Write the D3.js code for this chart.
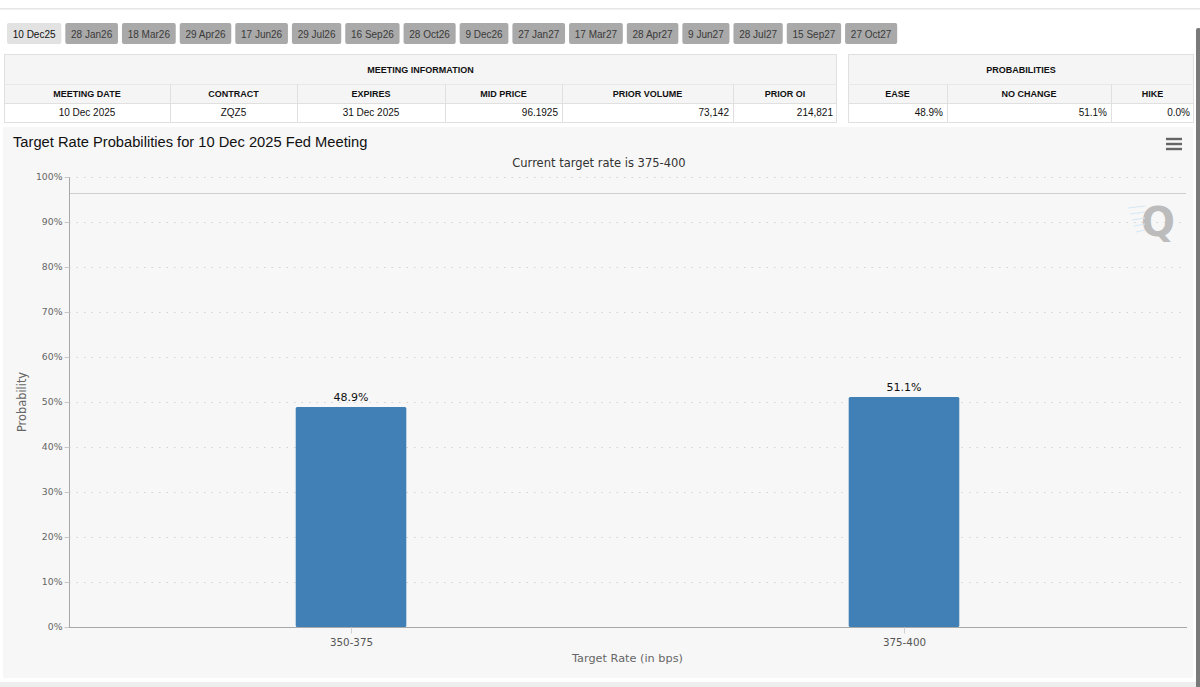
<!DOCTYPE html>
<html>
<head>
<meta charset="utf-8">
<script src="https://cdn.jsdelivr.net/npm/d3@7"></script>
<style>
  html, body { margin: 0; padding: 0; background: #fff; }
  svg { display: block; }
</style>
</head>
<body>
<svg id="page" width="1200" height="687"></svg>
<script>
// ---- data ----
var meetingTabs = ["10 Dec25","28 Jan26","18 Mar26","29 Apr26","17 Jun26","29 Jul26","16 Sep26","28 Oct26",
                   "9 Dec26","27 Jan27","17 Mar27","28 Apr27","9 Jun27","28 Jul27","15 Sep27","27 Oct27"];
var infoHeaders = ["MEETING DATE","CONTRACT","EXPIRES","MID PRICE","PRIOR VOLUME","PRIOR OI"];
var infoValues  = ["10 Dec 2025","ZQZ5","31 Dec 2025","96.1925","73,142","214,821"];
var probHeaders = ["EASE","NO CHANGE","HIKE"];
var probValues  = ["48.9%","51.1%","0.0%"];

var rateBuckets = ["350-375","375-400"];
var probabilities = [48.9, 51.1];
var yTicks = [0,10,20,30,40,50,60,70,80,90,100];
var refLine = 96.4;

var svg = d3.select("#page");
var sans = "'Liberation Sans', Arial, sans-serif";
var chartFont = "'DejaVu Sans', Verdana, sans-serif";

// top strip
svg.append("rect").attr("x",0).attr("y",8).attr("width",1200).attr("height",1.5).attr("fill","#e6e6e6");

// ---- tabs ----
var tabX = 7;
meetingTabs.forEach(function(t,i){
  var g = svg.append("g");
  var r = g.append("rect").attr("y",23).attr("height",21).attr("rx",2)
    .attr("fill", i==0 ? "#e2e2e2" : "#a9a9a9");
  var txt = g.append("text").text(t).attr("y",37.5)
    .attr("font-family",sans).attr("font-size","10px")
    .attr("fill", i==0 ? "#111" : "#3a3a3a");
  var w = txt.node().getComputedTextLength() + 11.5;
  r.attr("x",tabX).attr("width",w);
  txt.attr("x",tabX+5.75);
  tabX += w + 4;
});

// ---- tables ----
function drawTable(x0, x1, cols, title, headers, values, aligns){
  var g = svg.append("g");
  g.append("rect").attr("x",x0).attr("y",54).attr("width",x1-x0).attr("height",49).attr("fill","#f5f5f5");
  g.append("rect").attr("x",x0).attr("y",103).attr("width",x1-x0).attr("height",19).attr("fill","#fff");
  g.append("rect").attr("x",x0+0.5).attr("y",54.5).attr("width",x1-x0-1).attr("height",68)
    .attr("fill","none").attr("stroke","#e0e0e0");
  g.append("line").attr("x1",x0).attr("x2",x1).attr("y1",84.5).attr("y2",84.5).attr("stroke","#e8e8e8");
  g.append("line").attr("x1",x0).attr("x2",x1).attr("y1",103.5).attr("y2",103.5).attr("stroke","#e0e0e0");
  g.append("text").text(title).attr("x",(x0+x1)/2).attr("y",72.5).attr("text-anchor","middle")
    .attr("font-family",sans).attr("font-size","9px").attr("font-weight","bold").attr("fill","#111");
  for (var i=0;i<headers.length;i++){
    var a = cols[i], b = cols[i+1];
    if (i>0) g.append("line").attr("x1",a+0.5).attr("x2",a+0.5).attr("y1",84).attr("y2",122).attr("stroke","#e0e0e0");
    g.append("text").text(headers[i]).attr("x",(a+b)/2).attr("y",96.5).attr("text-anchor","middle")
      .attr("font-family",sans).attr("font-size","9px").attr("font-weight","bold").attr("fill","#111");
    var toRight = aligns[i]=="end";
    g.append("text").text(values[i]).attr("x", toRight ? b-4 : (a+b)/2).attr("y",116)
      .attr("text-anchor", toRight ? "end" : "middle")
      .attr("font-family",sans).attr("font-size","10px").attr("fill","#111");
  }
}
drawTable(4, 837, [4,170,297,445,562,733,837], "MEETING INFORMATION", infoHeaders, infoValues,
  ["middle","middle","middle","end","end","end"]);
drawTable(848, 1194, [848,947,1111,1194], "PROBABILITIES", probHeaders, probValues,
  ["end","end","end"]);

// ---- chart container ----
svg.append("rect").attr("x",3).attr("y",127).attr("width",1190).attr("height",551).attr("fill","#f7f7f7");
svg.append("rect").attr("x",0).attr("y",682).attr("width",1200).attr("height",5).attr("fill","#eeeeee");

svg.append("text").text("Target Rate Probabilities for 10 Dec 2025 Fed Meeting")
  .attr("x",13).attr("y",146.5).attr("font-family",sans).attr("font-size","14.7px").attr("fill","#111");
svg.append("text").text("Current target rate is 375-400")
  .attr("x",599).attr("y",167).attr("text-anchor","middle")
  .attr("font-family",chartFont).attr("font-size","11.5px").attr("fill","#333");

// menu icon
[139,144,149].forEach(function(yy){
  svg.append("rect").attr("x",1166).attr("y",yy-1.2).attr("width",16).attr("height",2.4).attr("fill","#666");
});

var plotLeft = 69, plotRight = 1186, plotTop = 177, plotBottom = 627;
var y = d3.scaleLinear().domain([0,100]).range([plotBottom, plotTop]);
var x = d3.scalePoint().domain(rateBuckets).range([plotLeft, plotRight]).padding(0.51);
var barW = x.step() * 0.2;

// gridlines
svg.append("g").selectAll("line").data(yTicks.filter(function(d){return d>0;})).enter().append("line")
  .attr("x1",plotLeft).attr("x2",1183).attr("y1",function(d){return y(d)+0.5;}).attr("y2",function(d){return y(d)+0.5;})
  .attr("stroke","#d2d2d2").attr("stroke-dasharray","1.5,6");

// reference line
svg.append("line").attr("x1",plotLeft).attr("x2",plotRight)
  .attr("y1",Math.round(y(refLine))+0.5).attr("y2",Math.round(y(refLine))+0.5)
  .attr("stroke","#cfcfcf");

// watermark
svg.append("text").text("Q").attr("x",1158).attr("y",236).attr("text-anchor","middle")
  .attr("font-family",chartFont).attr("font-weight","bold").attr("font-size","40px").attr("fill","#bcbcbc");
[0,1,2,3,4].forEach(function(i){
  svg.append("line").attr("x1",1128+i*2).attr("x2",1145).attr("y1",208+i*6).attr("y2",206+i*6)
    .attr("stroke","#d6e8f5").attr("stroke-width",1);
});

// y axis
var yAxis = d3.axisLeft(y).tickValues(yTicks).tickSize(5).tickFormat(function(d){return d+"%";});
var ya = svg.append("g").attr("transform","translate("+(plotLeft+0.5)+",0)").call(yAxis);
ya.select(".domain").attr("stroke","#a8a8a8").attr("d","M0,"+plotTop+"V"+plotBottom);
ya.selectAll(".tick line").attr("stroke","#c8c8c8");
ya.selectAll(".tick text").attr("x",-7).attr("font-family",chartFont).attr("font-size","9.3px").attr("fill","#666");

svg.append("text").text("Probability")
  .attr("transform","translate(26,402) rotate(-90)").attr("text-anchor","middle")
  .attr("font-family",chartFont).attr("font-size","11.4px").attr("fill","#666");

// bars
svg.append("g").selectAll("rect").data(probabilities).enter().append("rect")
  .attr("x",function(d,i){return x(rateBuckets[i]) - barW/2;})
  .attr("y",function(d){return y(d);})
  .attr("width",barW)
  .attr("height",function(d){return plotBottom - y(d);})
  .attr("rx",1.5)
  .attr("fill","#4180b7");

svg.append("g").selectAll("text").data(probabilities).enter().append("text")
  .text(function(d){return d.toFixed(1)+"%";})
  .attr("x",function(d,i){return x(rateBuckets[i]);})
  .attr("y",function(d){return y(d)-6;})
  .attr("text-anchor","middle")
  .attr("font-family",chartFont).attr("font-size","11px").attr("fill","#111");

// x axis
var xAxis = d3.axisBottom(x).tickSize(6).tickSizeOuter(0);
var xa = svg.append("g").attr("transform","translate(0,"+(plotBottom+0.5)+")").call(xAxis);
xa.select(".domain").attr("stroke","#a8a8a8").attr("d","M"+plotLeft+",0H"+(plotRight+1));
xa.selectAll(".tick line").attr("stroke","#d0d0d0");
xa.selectAll(".tick text").attr("dy",0).attr("y",18).attr("font-family",chartFont).attr("font-size","10.3px").attr("fill","#555");

svg.append("text").text("Target Rate (in bps)")
  .attr("x",(plotLeft+plotRight)/2).attr("y",662).attr("text-anchor","middle")
  .attr("font-family",chartFont).attr("font-size","11.3px").attr("fill","#666");

// scrollbar
svg.append("rect").attr("x",1196).attr("y",28).attr("width",5).attr("height",660).attr("rx",2).attr("fill","#7a7a7a");
</script>
</body>
</html>
